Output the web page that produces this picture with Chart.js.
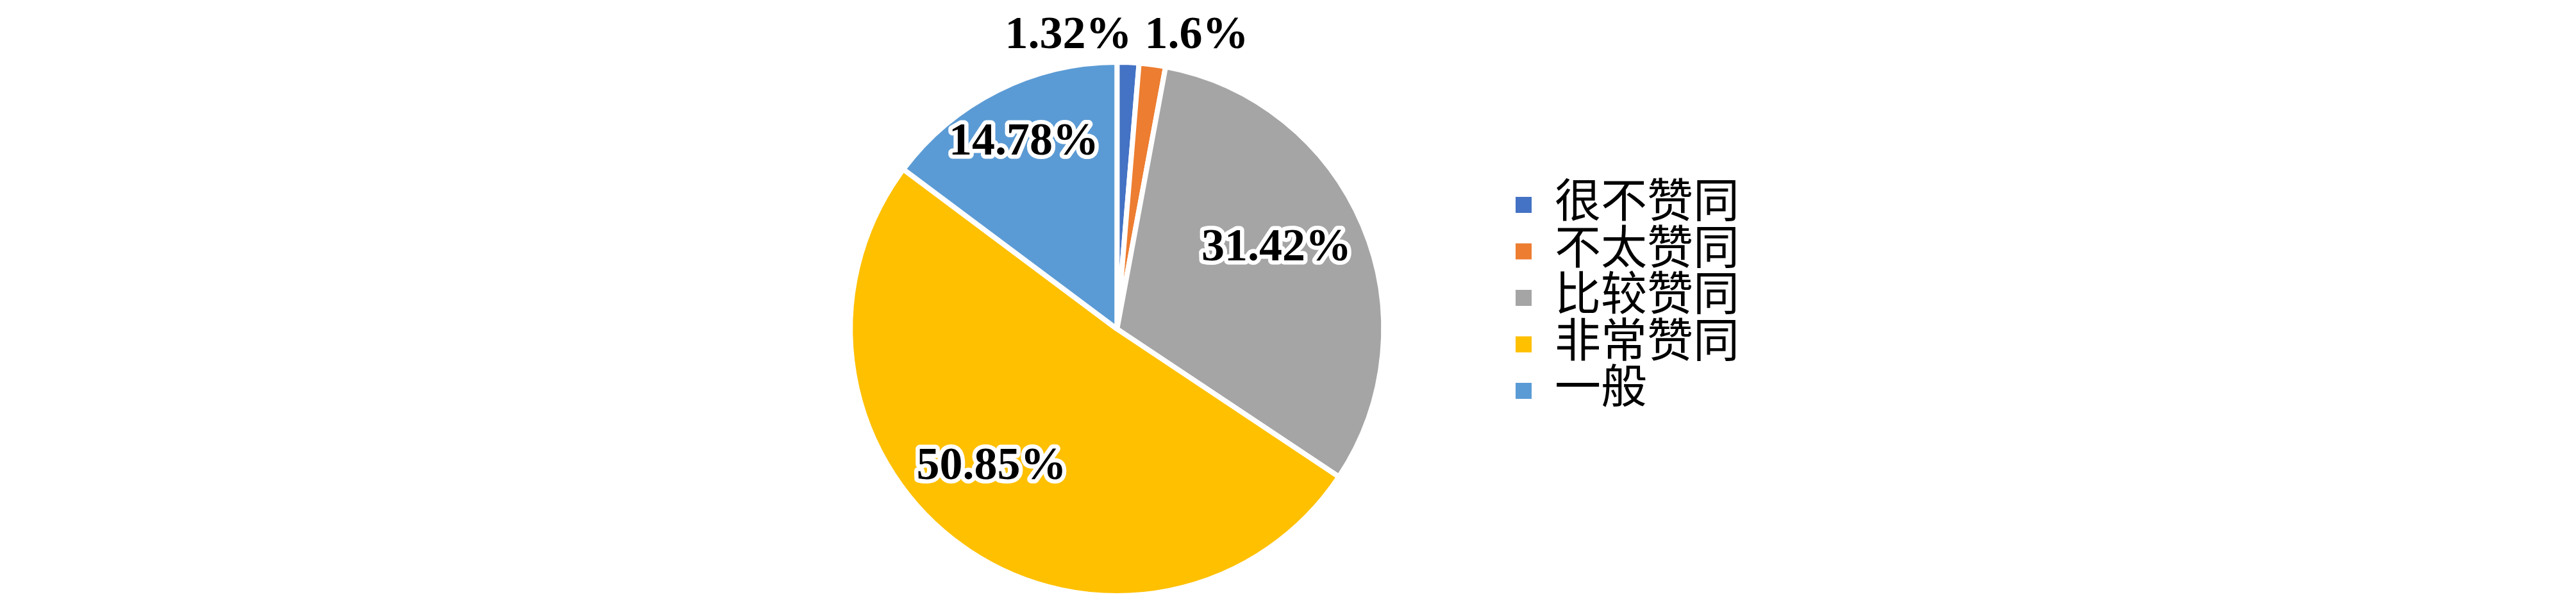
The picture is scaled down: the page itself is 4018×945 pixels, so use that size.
<!DOCTYPE html>
<html lang="zh">
<head>
<meta charset="UTF-8" />
<title>赞同程度分布</title>
<script src="https://cdn.jsdelivr.net/npm/chart.js@4.4.0/dist/chart.umd.min.js"></script>
<style>
  html, body { margin: 0; padding: 0; background: #fff; }
  #wrap { width: 4018px; height: 945px; position: relative; }
</style>
</head>
<body>
<div id="wrap"><canvas id="chart"></canvas></div>
<script>
// categories and their shares (percent)
const categories = ['很不赞同', '不太赞同', '比较赞同', '非常赞同', '一般'];
const shares = [1.32, 1.6, 31.42, 50.85, 14.78];
const labelTexts = ['1.32%', '1.6%', '31.42%', '50.85%', '14.78%'];
const sliceColors = ['#4472C4', '#ED7D31', '#A5A5A5', '#FFC000', '#5B9BD5'];

// where each value label sits: inside at a fraction of the radius,
// or above the pie for the two thin slices
const labelPlace = [
  { outside: true, align: 'right', dx: 6 },
  { outside: true, align: 'left', dx: -12 },
  { r: 0.67, turn: -0.068 },
  { r: 0.70, turn: 0.122 },
  { r: 0.78, turn: 0 }
];

const valueLabels = {
  id: 'valueLabels',
  afterDatasetsDraw(chart) {
    const ctx = chart.ctx;
    const arcs = chart.getDatasetMeta(0).data;
    ctx.save();
    ctx.font = 'bold 72px "Liberation Serif", "Times New Roman", serif';
    ctx.textBaseline = 'middle';
    ctx.lineJoin = 'round';
    arcs.forEach((arc, i) => {
      const p = arc.getProps(['x', 'y', 'startAngle', 'endAngle', 'outerRadius'], true);
      const mid = (p.startAngle + p.endAngle) / 2;
      const place = labelPlace[i];
      if (place.outside) {
        // text stands above the pie, pushed off the slice's rim point
        const rimX = p.x + Math.cos(mid) * p.outerRadius;
        const y = p.y - p.outerRadius - 41;
        ctx.textAlign = place.align;
        ctx.fillStyle = '#000';
        ctx.fillText(labelTexts[i], rimX + place.dx, y);
      } else {
        const a = mid + place.turn;
        const x = p.x + Math.cos(a) * p.outerRadius * place.r;
        const y = p.y + Math.sin(a) * p.outerRadius * place.r;
        ctx.textAlign = 'center';
        ctx.strokeStyle = '#fff';
        ctx.lineWidth = 13;
        ctx.strokeText(labelTexts[i], x, y);
        ctx.fillStyle = '#000';
        ctx.fillText(labelTexts[i], x, y);
      }
    });
    ctx.restore();
  }
};

const ctx = document.getElementById('chart').getContext('2d');
new Chart(ctx, {
  type: 'pie',
  data: {
    labels: categories,
    datasets: [{
      data: shares,
      backgroundColor: sliceColors,
      borderColor: '#fff',
      borderWidth: 8,
      radius: 416
    }]
  },
  options: {
    responsive: true,
    maintainAspectRatio: false,
    animation: false,
    layout: {
      padding: { left: 1121, right: 1295, top: 81, bottom: 0 }
    },
    plugins: {
      tooltip: { enabled: false },
      legend: {
        position: 'right',
        align: 'start',
        // empty title only pushes the items down to where they sit in the picture
        title: { display: true, text: '', font: { size: 10 }, padding: { top: 0, bottom: 190 } },
        labels: {
          boxWidth: 25,
          boxHeight: 25,
          padding: 0.5,
          color: '#000',
          font: { size: 72, family: '"Liberation Serif", "Noto Sans CJK SC", serif' },
          generateLabels(chart) {
            const items = Chart.overrides.pie.plugins.legend.labels.generateLabels(chart);
            items.forEach(it => { it.lineWidth = 0; it.strokeStyle = 'rgba(0,0,0,0)'; });
            return items;
          }
        }
      }
    }
  },
  plugins: [valueLabels]
});
</script>
</body>
</html>
